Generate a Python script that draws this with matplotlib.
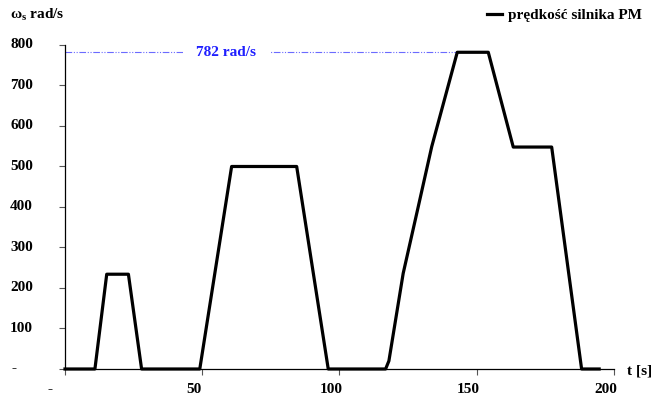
import matplotlib
matplotlib.use("Agg")
import matplotlib.pyplot as plt

plt.rcParams['font.family'] = ['Liberation Serif', 'DejaVu Serif']
plt.rcParams['font.weight'] = 'bold'
plt.rcParams['mathtext.fontset'] = 'custom'
plt.rcParams['mathtext.rm'] = 'Liberation Serif:bold'
plt.rcParams['mathtext.bf'] = 'Liberation Serif:bold'

# profil predkosci silnika PM (czas [s], predkosc [rad/s])
t = [0, 10.9, 15.2, 23.1, 27.9, 49.1, 60.7, 84.4, 95.9, 116.8, 118.0, 123.2,
     128.7, 133.6, 142.9, 154.2, 163.3, 177.3, 188.2, 194.6]
w = [0, 0, 234, 234, 0, 0, 500, 500, 0, 0, 20, 236,
     401, 549, 782, 782, 548, 548, 0, 0]

w_max = 782
t_max_end = 150.5
xticks = [0, 50, 100, 150, 200]
xlabels = ['-', '50', '100', '150', '200']
yticks = [0, 100, 200, 300, 400, 500, 600, 700, 800]
ylabels = ['-', '100', '200', '300', '400', '500', '600', '700', '800']

fs = 11

fig = plt.figure(figsize=(6.52, 3.96), dpi=100)
ax = fig.add_axes([0.0997, 0.0682, 0.842, 0.8182])

ax.plot(t, w, color='black', lw=2.3, solid_joinstyle='round', zorder=3,
        label='prędkość silnika PM', clip_on=False)

# linia maksymalnej predkosci
ax.plot([0, t_max_end], [w_max, w_max], color='#6b6bff', lw=0.8,
        linestyle=(0, (6, 1.5, 1, 1.5, 1, 1.5)), zorder=2)
ax.text(58.8, w_max, '782 rad/s', color='#1f1fff', fontsize=fs, fontweight='bold',
        ha='center', va='center', zorder=2.5,
        bbox=dict(boxstyle='square,pad=0.9', facecolor='white', edgecolor='none'))

ax.set_xlim(0, 200)
ax.set_ylim(0, 800)
for s in ['top', 'right']:
    ax.spines[s].set_visible(False)
ax.spines['left'].set_linewidth(0.9)
ax.spines['bottom'].set_linewidth(0.9)

ax.set_xticks(xticks)
ax.set_yticks(yticks)
ax.set_xticklabels([])
ax.set_yticklabels([])
ax.tick_params(axis='both', direction='out', length=4, width=0.8, color='#555555')

# opisy osi przesuniete jak w formacie ksiegowym
for x, lab in zip(xticks, xlabels):
    dx = -11 if lab == '-' else -6
    ax.annotate(lab, xy=(x, 0), xycoords=('data', 'axes fraction'),
                xytext=(dx, -14.5), textcoords='offset points',
                ha='center', va='center', fontsize=fs, fontweight='bold')
for y, lab in zip(yticks, ylabels):
    if lab == '-':
        ax.annotate(lab, xy=(0, y), xycoords=('axes fraction', 'data'),
                    xytext=(-37, 0), textcoords='offset points',
                    ha='center', va='center', fontsize=fs, fontweight='bold')
    else:
        ax.annotate(lab, xy=(0, y), xycoords=('axes fraction', 'data'),
                    xytext=(-23, 0), textcoords='offset points',
                    ha='right', va='center', fontsize=fs, fontweight='bold')

fig.text(0.016, 0.962, r'ω$_\mathregular{s}$ rad/s', fontsize=fs, fontweight='bold',
         ha='left', va='center')
fig.text(0.961, 0.062, 't [s]', fontsize=fs, fontweight='bold', ha='left', va='center')

ax.legend(loc='upper right', bbox_to_anchor=(0.998, 1.0), bbox_transform=fig.transFigure,
          frameon=False, handlelength=1.0, handletextpad=0.4, borderaxespad=0.15,
          prop={'weight': 'bold', 'size': fs})

fig.savefig('out.png', dpi=100)
